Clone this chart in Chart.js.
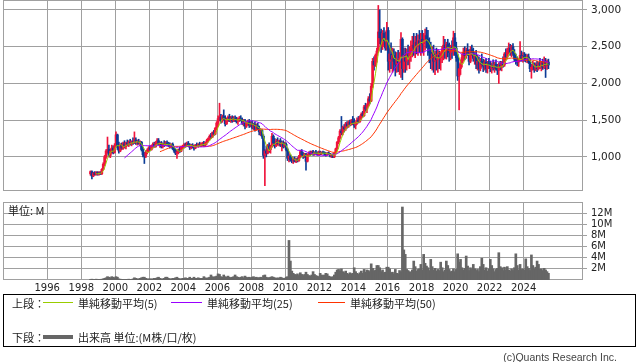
<!DOCTYPE html>
<html>
<head>
<meta charset="utf-8">
<script src="https://cdn.jsdelivr.net/npm/chart.js@4.4.1/dist/chart.umd.min.js"></script>
<style>
  body { margin: 0; background: #fff; width: 638px; height: 362px; overflow: hidden; position: relative; font-family: "DejaVu Sans", sans-serif; }
  canvas { position: absolute; left: 0; }
  #price { top: 0; }
  #vol { top: 195px; }
  .box { position: absolute; left: 3px; top: 294px; width: 633px; height: 53px; border: 1px solid #000; box-sizing: border-box; }
  .t { position: absolute; font-family: "Noto Sans CJK JP", sans-serif; font-size: 11px; line-height: 14px; color: #222; white-space: nowrap; }
  .ln { position: absolute; height: 1px; }
  .copy { position: absolute; right: 21px; top: 351px; font-family: "Liberation Sans", sans-serif; font-size: 10.5px; color: #444; }
</style>
</head>
<body>
<canvas id="price" width="638" height="191"></canvas>
<canvas id="vol" width="638" height="100"></canvas>
<div class="t" style="left:8px;top:203px;">単位: M</div>

<div class="box"></div>
<div class="t" style="left:12px;top:296px;">上段：</div>
<div class="ln" style="left:43px;top:302px;width:30px;background:#99cc00;"></div>
<div class="t" style="left:78px;top:296px;">単純移動平均(5)</div>
<div class="ln" style="left:171px;top:302px;width:31px;background:#9900ff;"></div>
<div class="t" style="left:207px;top:296px;">単純移動平均(25)</div>
<div class="ln" style="left:318px;top:302px;width:27px;background:#ff3300;"></div>
<div class="t" style="left:350px;top:296px;">単純移動平均(50)</div>
<div class="t" style="left:12px;top:330px;">下段：</div>
<div class="ln" style="left:43px;top:335px;width:30px;height:4px;background:#666;"></div>
<div class="t" style="left:78px;top:330px;">出来高 単位:(M株/口/枚)</div>
<div class="copy">(c)Quants Research Inc.</div>

<script>
// monthly data, Jul 1998 .. Jun 2025
const startYear = 1998;
const startMonth = 7;

const opens = [
  770, 800, 740, 780, 760, 790, // 1998 (Jul-)
  770, 780, 770, 830, 900, 1000, 1080, 1100, 1020, 1080, 1120, 1060,
  1150, 1300, 1150, 1080, 1160, 1120, 1180, 1140, 1190, 1170, 1200, 1180,
  1210, 1190, 1230, 1190, 1210, 1180, 1200, 1100, 1030, 1010, 1060, 1090,
  1120, 1100, 1150, 1170, 1140, 1190, 1220, 1170, 1190, 1140, 1180, 1160,
  1190, 1170, 1160, 1140, 1170, 1110, 1080, 1050, 1070, 1100, 1080, 1130,
  1140, 1160, 1150, 1180, 1160, 1130, 1150, 1140, 1120, 1160, 1150, 1170,
  1160, 1170, 1180, 1160, 1190, 1220, 1250, 1280, 1270, 1330, 1310, 1390,
  1460, 1520, 1540, 1490, 1550, 1520, 1450, 1510, 1540, 1500, 1530, 1490,
  1520, 1500, 1490, 1510, 1520, 1500, 1460, 1480, 1420, 1460, 1480, 1430,
  1460, 1400, 1440, 1380, 1420, 1390, 1340, 1360, 1280, 1020, 1080, 1050,
  1150, 1100, 1140, 1280, 1190, 1150, 1210, 1180, 1220, 1160, 1190, 1140,
  1170, 1100, 980, 1010, 960, 950, 970, 940, 960, 950, 1000, 1070,
  1030, 1000, 1040, 940, 1030, 1050, 1040, 1070, 1040, 1060, 1050, 1030,
  1060, 1050, 1060, 1050, 1040, 1030, 1050, 1040, 1010, 1020, 1000, 1050,
  1110, 1200, 1260, 1350, 1330, 1400, 1380, 1450, 1420, 1470, 1440, 1490,
  1460, 1430, 1470, 1500, 1480, 1540, 1580, 1560, 1680, 1650, 1700, 1790,
  1760, 1960, 2300, 2250, 2380, 2440, 2700, 2620, 2500, 2680, 2580, 2480,
  2720, 2300, 2400, 2330, 2380, 2300, 2260, 2320, 2280, 2340, 2600, 2200,
  2380, 2300, 2390, 2350, 2400, 2480, 2520, 2480, 2560, 2510, 2580, 2540,
  2600, 2540, 2580, 2650, 2600, 2500, 2420, 2350, 2400, 2300, 2360, 2320,
  2380, 2350, 2400, 2460, 2520, 2460, 2530, 2480, 2420, 2490, 2450, 2620,
  2480, 2350, 2100, 2200, 2280, 2350, 2420, 2380, 2450, 2400, 2300, 2460,
  2420, 2340, 2380, 2260, 2300, 2200, 2300, 2260, 2240, 2290, 2200, 2270,
  2250, 2200, 2240, 2210, 2260, 2200, 2180, 2250, 2220, 2280, 2250, 2400,
  2360, 2450, 2480, 2420, 2500, 2410, 2330, 2300, 2290, 2320, 2380, 2340,
  2370, 2350, 2330, 2360, 2300, 2200, 2220, 2260, 2190, 2250, 2200, 2270,
  2230, 2280, 2220, 2300, 2240, 2290 // 2025 (-Jun)
];
const highs = [
  810, 810, 790, 800, 800, 800,
  800, 800, 840, 920, 1020, 1100, 1270, 1160, 1110, 1160, 1150, 1180,
  1340, 1310, 1200, 1180, 1190, 1200, 1220, 1200, 1230, 1220, 1240, 1220,
  1260, 1340, 1260, 1230, 1240, 1220, 1210, 1120, 1060, 1080, 1110, 1140,
  1150, 1160, 1190, 1200, 1210, 1250, 1250, 1200, 1210, 1190, 1220, 1210,
  1220, 1200, 1190, 1180, 1190, 1140, 1110, 1090, 1110, 1130, 1140, 1160,
  1180, 1190, 1200, 1210, 1180, 1170, 1180, 1160, 1170, 1190, 1180, 1200,
  1190, 1200, 1210, 1200, 1240, 1260, 1300, 1320, 1340, 1360, 1400, 1480,
  1560, 1730, 1580, 1570, 1640, 1560, 1530, 1560, 1580, 1550, 1560, 1550,
  1560, 1540, 1530, 1550, 1560, 1530, 1510, 1510, 1480, 1500, 1510, 1480,
  1490, 1460, 1470, 1450, 1460, 1420, 1380, 1370, 1300, 1100, 1150, 1170,
  1190, 1160, 1320, 1300, 1250, 1240, 1260, 1230, 1250, 1210, 1220, 1200,
  1190, 1120, 1060, 1030, 1000, 990, 1000, 980, 990, 1020, 1090, 1100,
  1060, 1050, 1050, 1040, 1070, 1080, 1080, 1090, 1070, 1090, 1070, 1080,
  1080, 1070, 1080, 1070, 1060, 1060, 1070, 1050, 1040, 1040, 1060, 1120,
  1210, 1280, 1370, 1550, 1420, 1440, 1470, 1480, 1490, 1500, 1510, 1550,
  1520, 1480, 1530, 1550, 1560, 1600, 1620, 1700, 1730, 1720, 1820, 1860,
  2000, 2340, 2360, 2400, 2480, 3060, 3000, 2740, 2720, 2760, 2700, 2830,
  2760, 2520, 2550, 2480, 2470, 2430, 2420, 2450, 2420, 2690, 2620, 2480,
  2480, 2470, 2520, 2500, 2580, 2640, 2680, 2640, 2680, 2660, 2720, 2680,
  2720, 2680, 2740, 2760, 2720, 2620, 2560, 2500, 2520, 2440, 2480, 2460,
  2440, 2420, 2500, 2640, 2600, 2560, 2600, 2550, 2520, 2580, 2710, 2680,
  2560, 2400, 2260, 2320, 2400, 2480, 2500, 2480, 2540, 2460, 2500, 2520,
  2480, 2420, 2450, 2380, 2360, 2340, 2400, 2330, 2320, 2340, 2300, 2340,
  2300, 2280, 2320, 2290, 2320, 2260, 2280, 2300, 2300, 2360, 2420, 2470,
  2480, 2550, 2530, 2520, 2540, 2460, 2400, 2360, 2340, 2570, 2440, 2420,
  2420, 2400, 2390, 2400, 2340, 2260, 2300, 2280, 2280, 2300, 2290, 2340,
  2300, 2330, 2360, 2340, 2320, 2330
];
const lows = [
  750, 700, 730, 750, 750, 750,
  750, 760, 760, 820, 880, 980, 1050, 1000, 990, 1050, 1040, 1050,
  1130, 1100, 1050, 1070, 1100, 1100, 1120, 1110, 1150, 1140, 1160, 1150,
  1170, 1180, 1170, 1160, 1170, 1150, 1080, 1000, 910, 990, 1040, 1070,
  1080, 1090, 1120, 1130, 1130, 1170, 1160, 1130, 1120, 1120, 1140, 1150,
  1150, 1140, 1120, 1130, 1100, 1060, 1030, 980, 1040, 1060, 1070, 1110,
  1120, 1130, 1140, 1150, 1100, 1110, 1120, 1090, 1110, 1140, 1130, 1150,
  1140, 1150, 1150, 1140, 1170, 1200, 1230, 1250, 1260, 1290, 1300, 1370,
  1420, 1490, 1460, 1470, 1500, 1420, 1440, 1480, 1480, 1470, 1470, 1480,
  1480, 1460, 1440, 1480, 1490, 1440, 1420, 1380, 1400, 1430, 1400, 1410,
  1380, 1370, 1350, 1360, 1370, 1300, 1290, 1250, 980, 610, 1000, 1040,
  1060, 1050, 1130, 1150, 1120, 1140, 1160, 1150, 1140, 1080, 1120, 1130,
  1080, 950, 930, 940, 920, 910, 930, 920, 930, 940, 990, 1010,
  980, 990, 820, 930, 1010, 1020, 1030, 1020, 1020, 1040, 1020, 1020,
  1030, 1030, 1040, 1020, 1010, 1020, 1030, 1000, 990, 990, 990, 1040,
  1100, 1180, 1240, 1300, 1300, 1340, 1360, 1390, 1400, 1420, 1430, 1440,
  1400, 1380, 1440, 1460, 1470, 1510, 1540, 1550, 1620, 1600, 1680, 1720,
  1750, 1940, 2180, 2230, 2290, 2420, 2540, 2420, 2460, 2520, 2450, 2450,
  2180, 2150, 2200, 2150, 2180, 2100, 2150, 2160, 2120, 2080, 2050, 2150,
  2150, 2180, 2250, 2200, 2300, 2360, 2380, 2350, 2400, 2380, 2420, 2380,
  2420, 2380, 2450, 2480, 2380, 2280, 2200, 2180, 2150, 2120, 2180, 2150,
  2200, 2180, 2280, 2320, 2340, 2330, 2360, 2300, 2320, 2340, 2380, 2380,
  2300, 2040, 1640, 2120, 2220, 2300, 2320, 2340, 2380, 2250, 2280, 2380,
  2300, 2260, 2200, 2180, 2140, 2170, 2220, 2160, 2180, 2150, 2140, 2200,
  2160, 2140, 2180, 2150, 2180, 2120, 2000, 2180, 2170, 2220, 2230, 2320,
  2330, 2400, 2380, 2360, 2380, 2300, 2260, 2240, 2230, 2300, 2300, 2290,
  2300, 2290, 2280, 2270, 2160, 2070, 2180, 2150, 2170, 2160, 2180, 2200,
  2170, 2190, 2200, 2080, 2190, 2200
];
const closes = [
  800, 740, 780, 760, 790, 770,
  780, 770, 830, 900, 1000, 1080, 1100, 1020, 1080, 1120, 1060, 1150,
  1300, 1150, 1080, 1160, 1120, 1180, 1140, 1190, 1170, 1200, 1180, 1210,
  1190, 1230, 1190, 1210, 1180, 1200, 1100, 1030, 1010, 1060, 1090, 1120,
  1100, 1150, 1170, 1140, 1190, 1220, 1170, 1190, 1140, 1180, 1160, 1190,
  1170, 1160, 1140, 1170, 1110, 1080, 1050, 1070, 1100, 1080, 1130, 1140,
  1160, 1150, 1180, 1160, 1130, 1150, 1140, 1120, 1160, 1150, 1170, 1160,
  1170, 1180, 1160, 1190, 1220, 1250, 1280, 1270, 1330, 1310, 1390, 1460,
  1520, 1540, 1490, 1550, 1520, 1450, 1510, 1540, 1500, 1530, 1490, 1520,
  1500, 1490, 1510, 1520, 1500, 1460, 1480, 1420, 1460, 1480, 1430, 1460,
  1400, 1440, 1380, 1420, 1390, 1340, 1360, 1280, 1020, 1080, 1050, 1150,
  1100, 1140, 1280, 1190, 1150, 1210, 1180, 1220, 1160, 1190, 1140, 1170,
  1100, 980, 1010, 960, 950, 970, 940, 960, 950, 1000, 1070, 1030,
  1000, 1040, 940, 1030, 1050, 1040, 1070, 1040, 1060, 1050, 1030, 1060,
  1050, 1060, 1050, 1040, 1030, 1050, 1040, 1010, 1020, 1000, 1050, 1110,
  1200, 1260, 1350, 1330, 1400, 1380, 1450, 1420, 1470, 1440, 1490, 1460,
  1430, 1470, 1500, 1480, 1540, 1580, 1560, 1680, 1650, 1700, 1790, 1760,
  1960, 2300, 2250, 2380, 2440, 2700, 2620, 2500, 2680, 2580, 2480, 2720,
  2300, 2400, 2330, 2380, 2300, 2260, 2320, 2280, 2340, 2600, 2200, 2380,
  2300, 2390, 2350, 2400, 2480, 2520, 2480, 2560, 2510, 2580, 2540, 2600,
  2540, 2580, 2650, 2600, 2500, 2420, 2350, 2400, 2300, 2360, 2320, 2380,
  2350, 2400, 2460, 2520, 2460, 2530, 2480, 2420, 2490, 2450, 2620, 2480,
  2350, 2100, 2200, 2280, 2350, 2420, 2380, 2450, 2400, 2300, 2460, 2420,
  2340, 2380, 2260, 2300, 2200, 2300, 2260, 2240, 2290, 2200, 2270, 2250,
  2200, 2240, 2210, 2260, 2200, 2180, 2250, 2220, 2280, 2250, 2400, 2360,
  2450, 2480, 2420, 2500, 2410, 2330, 2300, 2290, 2320, 2380, 2340, 2370,
  2350, 2330, 2360, 2300, 2200, 2220, 2260, 2190, 2250, 2200, 2270, 2230,
  2280, 2220, 2300, 2240, 2290, 2250
];
// volume, millions of shares
const volumes = [
  0.1, 0.15, 0.1, 0.1, 0.15, 0.1,
  0.1, 0.1, 0.15, 0.2, 0.3, 0.4, 0.6, 0.5, 0.4, 0.6, 0.5, 0.4,
  0.6, 0.5, 0.2, 0.15, 0.1, 0.1, 0.1, 0.1, 0.1, 0.15, 0.1, 0.1,
  0.2, 0.4, 0.3, 0.2, 0.2, 0.3, 0.4, 0.5, 0.5, 0.3, 0.2, 0.2,
  0.2, 0.2, 0.2, 0.3, 0.3, 0.4, 0.5, 0.3, 0.2, 0.2, 0.3, 0.5,
  0.5, 0.3, 0.2, 0.2, 0.3, 0.3, 0.4, 0.5, 0.3, 0.2, 0.2, 0.3,
  0.3, 0.4, 0.3, 0.3, 0.5, 0.3, 0.3, 0.5, 0.3, 0.3, 0.4, 0.3,
  0.3, 0.3, 0.6, 0.4, 0.3, 0.4, 0.5, 0.9, 0.6, 0.5, 0.6, 0.7,
  1.1, 1.0, 0.6, 0.5, 0.9, 0.6, 0.5, 0.7, 0.5, 0.4, 0.5, 0.6,
  0.9, 0.6, 0.5, 0.4, 0.5, 0.6, 0.4, 0.7, 0.5, 0.4, 0.5, 0.4,
  0.5, 0.6, 0.4, 0.5, 0.4, 0.4, 0.5, 0.4, 0.8, 0.9, 0.5, 0.4,
  0.4, 0.5, 0.6, 0.5, 0.4, 0.3, 0.4, 0.3, 0.5, 0.4, 0.3, 0.3,
  0.5, 0.6, 7.1, 3.4, 1.6, 1.2, 1.0, 0.9, 1.1, 0.8, 1.3, 1.0,
  0.8, 1.0, 1.4, 1.0, 0.8, 0.7, 0.9, 1.5, 1.0, 0.8, 0.7, 0.6,
  1.2, 0.9, 0.8, 0.9, 1.2, 1.1, 0.7, 0.6, 0.5, 0.6, 0.9, 1.4,
  1.8, 1.9, 1.6, 2.0, 1.5, 1.3, 1.6, 1.2, 1.0, 1.3, 1.1, 1.2,
  2.2, 1.5, 1.2, 1.0, 1.3, 1.6, 1.2, 1.9, 1.4, 1.8, 1.7, 1.5,
  2.9, 2.1, 1.6, 1.8, 2.6, 2.6, 2.2, 1.5, 1.8, 1.3, 1.4, 2.3,
  2.3, 2.0, 1.3, 1.4, 1.1, 1.9, 1.2, 1.1, 1.7, 1.5, 13.1, 5.4,
  4.6, 1.9, 1.7, 1.5, 1.4, 1.8, 3.4, 2.4, 1.6, 1.9, 2.0, 2.8,
  1.8, 4.6, 3.0, 2.5, 2.2, 1.7, 3.7, 2.4, 1.8, 2.1, 1.6, 1.9,
  1.7, 3.2, 2.2, 1.5, 1.8, 3.4, 2.6, 1.9, 1.5, 1.6, 2.0, 1.5,
  1.9, 4.7, 3.2, 3.7, 2.2, 1.8, 2.1, 4.3, 2.5, 1.7, 2.2, 1.9,
  2.8, 2.0, 1.7, 1.9, 1.5, 2.4, 3.9, 2.8, 1.8, 2.2, 1.6, 2.0,
  3.7, 2.6, 2.0, 1.5, 1.9, 2.1, 4.9, 2.4, 2.2, 1.7, 2.3, 1.8,
  2.4, 1.8, 1.6, 2.0, 1.7, 2.2, 4.7, 2.6, 1.8, 2.8, 1.9, 2.0,
  1.8, 3.8, 2.4, 2.1, 1.7, 4.5, 2.6, 2.0, 2.3, 3.4, 2.8, 1.9,
  2.0, 1.7, 2.1, 1.8, 1.5, 1.2
];

const yearTicks = [1996, 1998, 2000, 2002, 2004, 2006, 2008, 2010, 2012, 2014, 2016, 2018, 2020, 2022, 2024];
const priceTicks = [1000, 1500, 2000, 2500, 3000];
const volumeTicks = [2, 4, 6, 8, 10, 12];

const UP = '#f0143c', DOWN = '#0c3c96', GRID = '#a0a0a0';

// x position of each month = middle of the month in fractional years
const monthX = closes.map((c, i) => {
  const m = startMonth - 1 + i;
  return startYear + Math.floor(m / 12) + ((m % 12) + 0.5) / 12;
});

function sma(n) {
  let out = [];
  for (let i = n - 1; i < closes.length; i++) {
    let sum = 0;
    for (let k = i - n + 1; k <= i; k++) sum += closes[k];
    out.push({ x: monthX[i], y: sum / n });
  }
  return out;
}

const candleColors = closes.map((c, i) => c >= opens[i] ? UP : DOWN);

// grey frame round the plot area
const frame = {
  id: 'frame',
  beforeDatasetsDraw(chart) {
    const a = chart.chartArea, ctx = chart.ctx;
    ctx.save();
    ctx.strokeStyle = GRID;
    ctx.lineWidth = 1;
    ctx.strokeRect(Math.round(a.left) + 0.5, Math.round(a.top) + 0.5, Math.round(a.right - a.left) - 1, Math.round(a.bottom - a.top) - 1);
    ctx.restore();
  }
};

const xMin = 1993.4, xMax = 2027.49;

function xScale(showLabels) {
  return {
    type: 'linear', min: xMin, max: xMax, offset: false,
    afterBuildTicks: s => { s.ticks = yearTicks.map(v => ({ value: v })); },
    ticks: { display: showLabels, color: '#222', font: { family: 'DejaVu Sans', size: 10 }, padding: 2, maxRotation: 0, autoSkip: false, callback: v => String(v) },
    grid: { color: GRID, drawTicks: false, offset: false },
    border: { display: false },
    afterFit: s => { s.height = showLabels ? 15 : 0; s.paddingLeft = 0; s.paddingRight = 0; }
  };
}

new Chart(document.getElementById('price'), {
  type: 'bar',
  data: {
    datasets: [
      { type: 'line', data: sma(5), borderColor: '#99cc00', borderWidth: 1, pointRadius: 0, order: 0 },
      { type: 'line', data: sma(25), borderColor: '#9900ff', borderWidth: 1, pointRadius: 0, order: 0 },
      { type: 'line', data: sma(50), borderColor: '#ff3300', borderWidth: 1, pointRadius: 0, order: 0 },
      { data: monthX.map((x, i) => ({ x: x, y: [opens[i], closes[i]] })), backgroundColor: candleColors, barThickness: 2, minBarLength: 1, grouped: false, order: 1 },
      { data: monthX.map((x, i) => ({ x: x, y: [lows[i], highs[i]] })), backgroundColor: candleColors, barThickness: 1, grouped: false, order: 2 }
    ]
  },
  options: {
    responsive: false,
    animation: false,
    layout: { padding: { left: 3, top: 0, right: 0, bottom: 0 } },
    plugins: { legend: { display: false }, tooltip: { enabled: false } },
    scales: {
      x: xScale(false),
      y: {
        position: 'right', min: 536, max: 3134,
        afterBuildTicks: s => { s.ticks = priceTicks.map(v => ({ value: v })); },
        ticks: { color: '#222', font: { family: 'DejaVu Sans', size: 10.5 }, padding: 4, callback: v => v.toLocaleString('en-US') },
        grid: { color: GRID, tickLength: 4 },
        border: { display: false },
        afterFit: s => { s.width = 55; s.paddingTop = 0; s.paddingBottom = 0; }
      }
    }
  },
  plugins: [frame]
});

new Chart(document.getElementById('vol'), {
  type: 'bar',
  data: {
    datasets: [
      { data: monthX.map((x, i) => ({ x: x, y: volumes[i] })), backgroundColor: '#666666', barThickness: 2 }
    ]
  },
  options: {
    responsive: false,
    animation: false,
    layout: { padding: { left: 3, top: 7, right: 0, bottom: 0 } },
    plugins: { legend: { display: false }, tooltip: { enabled: false } },
    scales: {
      x: xScale(true),
      y: {
        position: 'right', min: 0, max: 14,
        afterBuildTicks: s => { s.ticks = volumeTicks.map(v => ({ value: v })); },
        ticks: { color: '#222', font: { family: 'DejaVu Sans', size: 10 }, padding: 4, callback: v => v + 'M' },
        grid: { color: GRID, tickLength: 4 },
        border: { display: false },
        afterFit: s => { s.width = 55; s.paddingTop = 0; s.paddingBottom = 0; }
      }
    }
  },
  plugins: [frame]
});
</script>
</body>
</html>
